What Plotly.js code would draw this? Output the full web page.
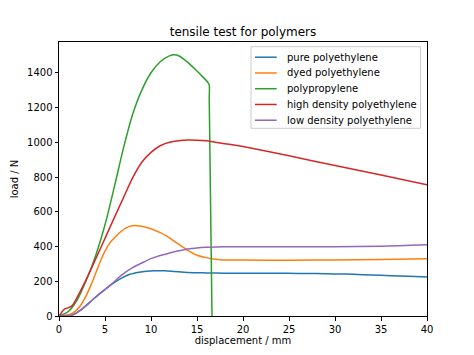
<!DOCTYPE html>
<html>
<head>
<meta charset="utf-8">
<script src="https://cdn.plot.ly/plotly-3.0.1.min.js"></script>
<style>html,body{margin:0;padding:0;background:#fff;}#chart{width:474px;height:355px;}</style>
</head>
<body>
<div id="chart"></div>
<script>
const seriesNames = ["pure polyethylene", "dyed polyethylene", "polypropylene", "high density polyethylene", "low density polyethylene"];
const seriesColors = ["#1f77b4", "#ff7f0e", "#2ca02c", "#d62728", "#9467bd"];

const pureX = [0, 1.45, 2.5, 3.62, 4.7, 5.8, 6.8, 7.7, 8.7, 9.5, 10.4, 11.5, 12.6, 14, 16, 18, 20, 24, 26, 28, 30, 32, 34, 36, 38, 40];
const pureY = [0, 6, 40, 92, 140, 185, 218, 240, 252, 258, 261, 260, 256, 251, 248, 246, 246, 246, 245, 244, 242, 240, 236, 232, 229, 225];

const dyedX = [0, 0.7, 1.45, 2.2, 2.9, 3.45, 3.99, 4.5, 5.07, 5.6, 6.16, 6.7, 7.25, 7.97, 8.5, 9, 10, 11, 11.7, 12.6, 13.9, 15, 16, 17, 18, 20, 25, 30, 35, 40];
const dyedY = [0, 4, 15, 50, 111, 175, 246, 315, 381, 425, 458, 485, 506, 519, 520, 516, 502, 480, 460, 428, 381, 350, 336, 327, 323, 322, 321, 323, 325, 329];

const ppX = [0, 1, 2, 3, 4, 5, 6, 7, 8, 9, 10, 11, 12, 12.5, 13, 14, 15, 15.7, 16.3, 16.33, 16.63];
const ppY = [0, 25, 95, 210, 350, 525, 740, 965, 1160, 1300, 1400, 1463, 1497, 1503, 1498, 1460, 1410, 1372, 1335, 1250, 0];

const hdX = [0, 0.3, 0.6, 1.0, 1.4, 2, 3, 4, 5, 6, 7, 8, 9, 10, 11, 12, 13, 14, 15, 16, 17, 18, 19, 20, 25, 30, 35, 40];
const hdY = [0, 22, 40, 47, 58, 110, 215, 330, 447, 565, 680, 795, 885, 942, 980, 1000, 1009, 1013, 1012, 1008, 1000, 992, 984, 975, 922, 866, 811, 756];

const ldX = [0, 1.45, 2.5, 3.62, 4.7, 5.8, 6.8, 8, 9, 10, 11, 12, 13, 14, 15, 16, 18, 20, 25, 30, 35, 40];
const ldY = [0, 6, 40, 92, 140, 188, 235, 278, 305, 330, 348, 362, 375, 386, 392, 395, 398, 399, 399, 399, 402, 410];

const xs = [pureX, dyedX, ppX, hdX, ldX];
const ys = [pureY, dyedY, ppY, hdY, ldY];

const xTicks = [0, 5, 10, 15, 20, 25, 30, 35, 40];
const yTicks = [0, 200, 400, 600, 800, 1000, 1200, 1400];

const traces = seriesNames.map((n, i) => ({
  x: xs[i], y: ys[i], name: n, type: "scatter", mode: "lines", showlegend: false,
  line: {color: seriesColors[i], width: 1.5, shape: "spline", smoothing: 0.8}
}));

const font = {family: "DejaVu Sans, sans-serif", size: 10, color: "#000"};
const axisCommon = {
  showline: true, mirror: true, linecolor: "#000", linewidth: 1,
  ticks: "outside", ticklen: 3.5, tickwidth: 1, tickcolor: "#000",
  showgrid: false, zeroline: false, tickfont: font
};

// custom legend (matplotlib-like spacing), in axis-fraction coordinates
const legBox = {x0: 0.5217, x1: 0.9823, y0: 0.685, y1: 0.983};
const legTop = 0.9445, legStep = 0.0575;
const shapes = [{type: "rect", xref: "paper", yref: "paper", x0: legBox.x0, x1: legBox.x1, y0: legBox.y0, y1: legBox.y1,
                 line: {color: "#cccccc", width: 1}, fillcolor: "rgba(255,255,255,0.8)", layer: "above"}];
const annotations = [];
seriesNames.forEach((n, i) => {
  const yy = legTop - i * legStep;
  shapes.push({type: "line", xref: "paper", yref: "paper", x0: 0.5326, x1: 0.5916, y0: yy, y1: yy,
               line: {color: seriesColors[i], width: 1.5}, layer: "above"});
  annotations.push({xref: "paper", yref: "paper", x: 0.614, y: yy, xanchor: "left", yanchor: "middle",
                    text: n, showarrow: false, font: font});
});

const layout = {
  width: 474, height: 355,
  margin: {l: 59, r: 47, t: 42, b: 39},
  paper_bgcolor: "#fff", plot_bgcolor: "#fff",
  font: font,
  title: {text: "tensile test for polymers", font: {family: "DejaVu Sans, sans-serif", size: 12, color: "#000"},
          x: 0.5, xref: "paper", y: 1 - 32/355, yref: "container", yanchor: "middle"},
  xaxis: Object.assign({}, axisCommon, {range: [0, 40], tickvals: xTicks, ticktext: xTicks.map(String),
          title: {text: "displacement / mm", font: font, standoff: 2}}),
  yaxis: Object.assign({}, axisCommon, {range: [0, 1577], tickvals: yTicks, ticktext: yTicks.map(String),
          title: {text: "load / N", font: font, standoff: 6}}),
  showlegend: false,
  shapes: shapes,
  annotations: annotations
};

Plotly.newPlot("chart", traces, layout, {displayModeBar: false, staticPlot: true});
</script>
</body>
</html>
